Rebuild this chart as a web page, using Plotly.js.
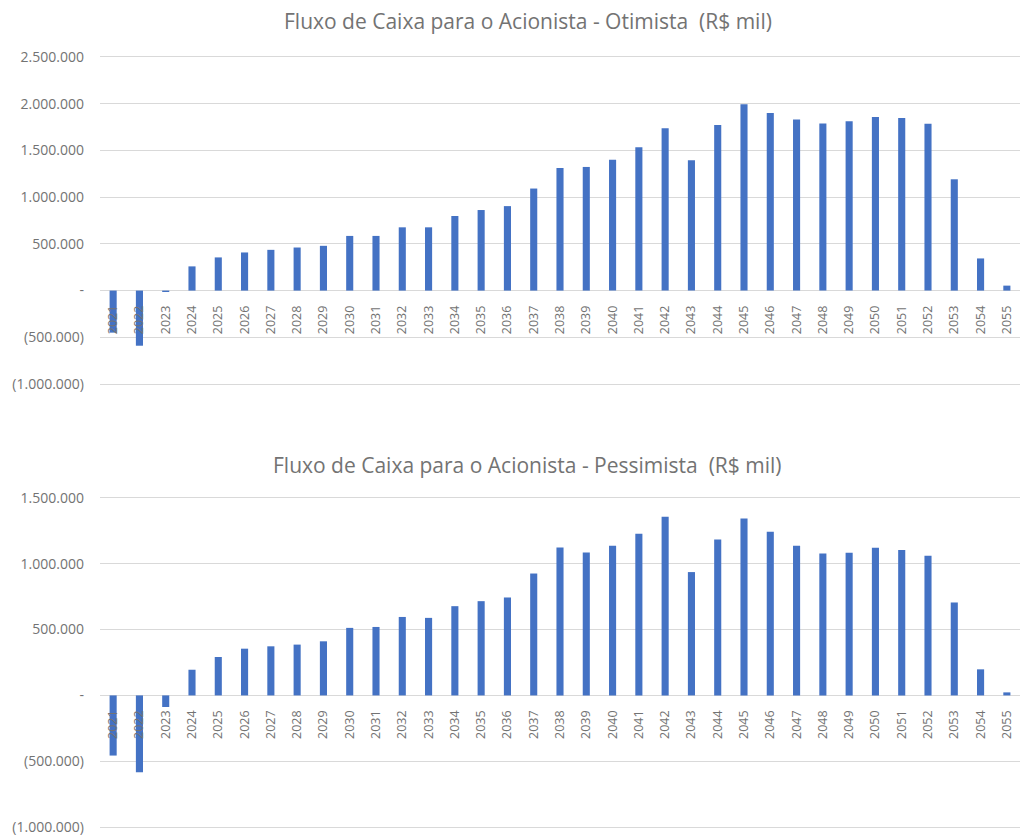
<!DOCTYPE html>
<html>
<head>
<meta charset="utf-8">
<script src="https://cdn.plot.ly/plotly-3.0.1.min.js"></script>
<style>html,body{margin:0;padding:0;background:#fff;}#chart{width:1031px;height:835px;}</style>
</head>
<body>
<div id="chart"></div>
<script>
const years = ["2021","2022","2023","2024","2025","2026","2027","2028","2029","2030","2031","2032","2033","2034","2035","2036","2037","2038","2039","2040","2041","2042","2043","2044","2045","2046","2047","2048","2049","2050","2051","2052","2053","2054","2055"];
const otimista = [-450000,-590000,-15000,259000,355000,408000,436000,461000,479000,585000,585000,677000,677000,798000,862000,904000,1092000,1312000,1323000,1401000,1535000,1738000,1394000,1773000,1993000,1901000,1830000,1787000,1812000,1858000,1848000,1784000,1191000,344000,53000];
const pessimista = [-457000,-584000,-88000,195000,292000,355000,373000,386000,411000,513000,520000,596000,589000,678000,716000,744000,926000,1124000,1086000,1137000,1228000,1358000,937000,1185000,1345000,1244000,1137000,1079000,1084000,1122000,1104000,1061000,706000,198000,23000];
const topTickVals = [-1000000,-500000,0,500000,1000000,1500000,2000000,2500000];
const topTickText = ["(1.000.000)","(500.000)","-","500.000","1.000.000","1.500.000","2.000.000","2.500.000"];
const botTickVals = [-1000000,-500000,0,500000,1000000,1500000];
const botTickText = ["(1.000.000)","(500.000)","-","500.000","1.000.000","1.500.000"];
const titleTop = "Fluxo de Caixa para o Acionista - Otimista  (R$ mil)";
const titleBot = "Fluxo de Caixa para o Acionista - Pessimista  (R$ mil)";

const H = 835;
const pad = 0.006;
const topDom = [1 - 386/H, 1 - 55/H];
const botDom = [1 - 829/H, 1 - 496/H];
const topRange = [-1000000 - 3500000*pad, 2500000 + 3500000*pad];
const botRange = [-1000000 - 2500000*pad, 1500000 + 2500000*pad];
const zeroPos = (dom, r) => dom[0] + (0 - r[0]) / (r[1] - r[0]) * (dom[1] - dom[0]);

const blue = "#4472C4";
const grey = "#737373";
const gridc = "#d9d9d9";
const fam = "'Open Sans', 'Noto Sans', sans-serif";

const traces = [
  {type: "bar", x: years, y: otimista, marker: {color: blue}, xaxis: "x", yaxis: "y", hoverinfo: "x+y"},
  {type: "bar", x: years, y: pessimista, marker: {color: blue}, xaxis: "x2", yaxis: "y2", hoverinfo: "x+y"}
];

const xCommon = {
  type: "category", tickangle: -90, tickfont: {family: fam, size: 12.5, color: grey}, showgrid: false,
  showline: false, zeroline: false, ticks: "outside", ticklen: 9, tickcolor: "rgba(0,0,0,0)",
  domain: [0, 1], range: [-0.5, 34.5]
};
const yCommon = {
  showgrid: true, gridcolor: gridc, gridwidth: 1, zeroline: true, zerolinecolor: gridc, zerolinewidth: 1,
  tickfont: {family: fam, size: 14, color: grey}, ticklabeloverflow: "allow",
  ticks: "", ticklabelstandoff: 15, showline: false
};

const layout = {
  width: 1031, height: 835,
  margin: {l: 100, r: 11, t: 0, b: 0},
  paper_bgcolor: "#ffffff", plot_bgcolor: "#ffffff",
  showlegend: false, bargap: 0.73,
  xaxis: Object.assign({}, xCommon, {anchor: "free", position: zeroPos(topDom, topRange)}),
  yaxis: Object.assign({}, yCommon, {domain: topDom, range: topRange, tickvals: topTickVals, ticktext: topTickText}),
  xaxis2: Object.assign({}, xCommon, {anchor: "free", position: zeroPos(botDom, botRange)}),
  yaxis2: Object.assign({}, yCommon, {domain: botDom, range: botRange, tickvals: botTickVals, ticktext: botTickText}),
  annotations: [
    {text: titleTop, xref: "paper", yref: "paper", x: 0.465, y: 1 - 21/H, xanchor: "center", yanchor: "middle", showarrow: false,
     font: {family: fam, size: 21, color: grey}},
    {text: titleBot, xref: "paper", yref: "paper", x: 0.465, y: 1 - 465/H, xanchor: "center", yanchor: "middle", showarrow: false,
     font: {family: fam, size: 21, color: grey}}
  ]
};

Plotly.newPlot("chart", traces, layout, {displayModeBar: false, staticPlot: true});
</script>
</body>
</html>
